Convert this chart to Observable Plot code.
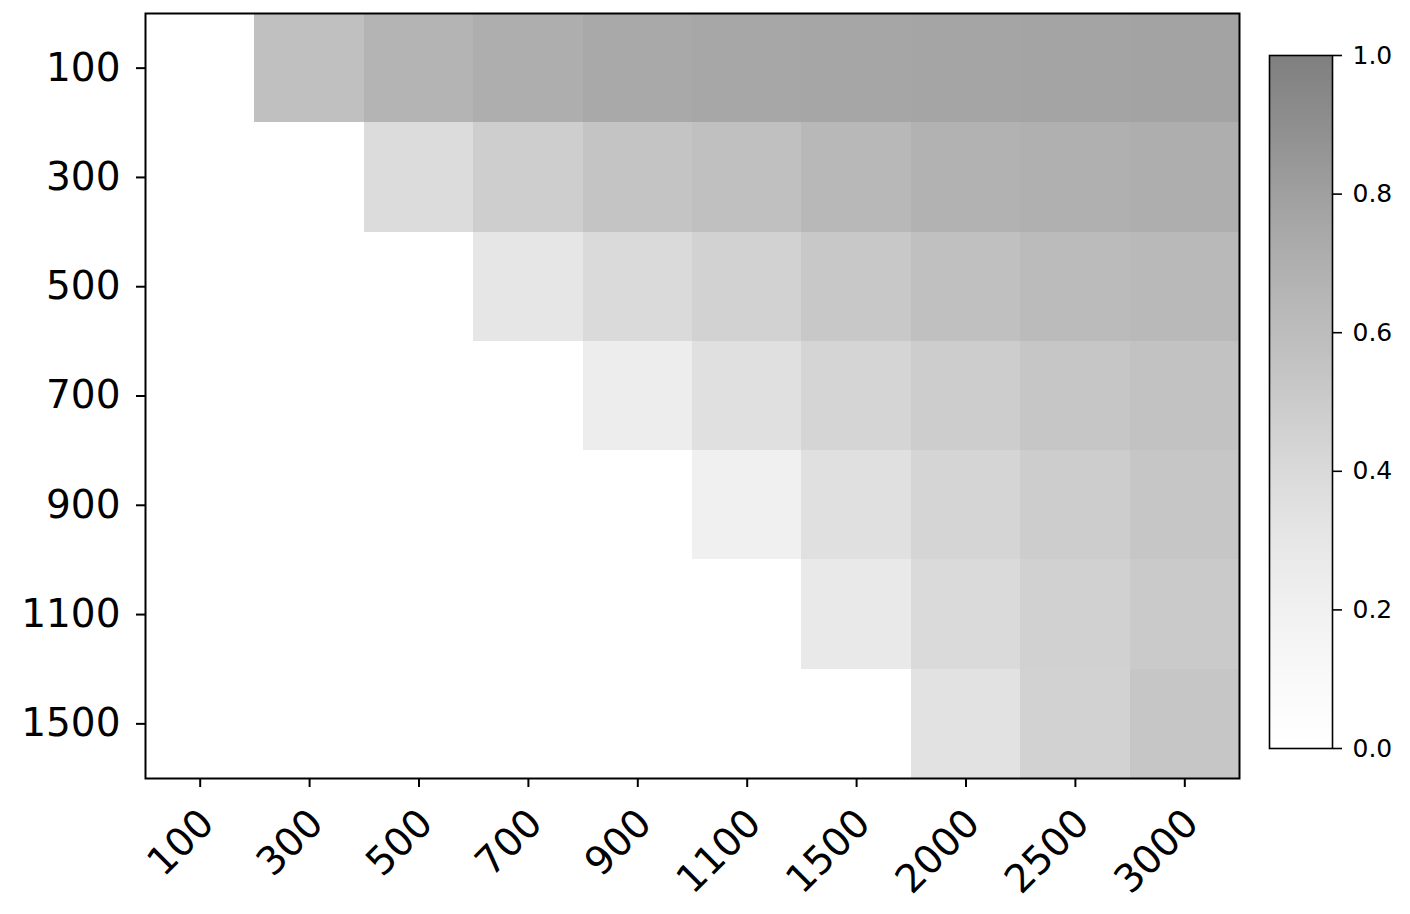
<!DOCTYPE html>
<html>
<head>
<meta charset="utf-8">
<script src="https://cdn.jsdelivr.net/npm/d3@7"></script>
<script src="https://cdn.jsdelivr.net/npm/@observablehq/plot@0.6"></script>
<style>
  html, body { margin: 0; padding: 0; background: #fff; }
  #wrap { display: flex; flex-direction: row; width: 1410px; height: 914px; }
  svg { font-family: "DejaVu Sans", sans-serif; }
</style>
</head>
<body>
<div id="wrap"></div>
<script>
// ---- data ----
const xCats = ["100", "300", "500", "700", "900", "1100", "1500", "2000", "2500", "3000"];
const yCats = ["100", "300", "500", "700", "900", "1100", "1500"];
// one row per y category; null = empty (masked) cell
const row100  = [null, 0.575, 0.663, 0.708, 0.739, 0.753, 0.764, 0.769, 0.775, 0.781];
const row300  = [null, null, 0.388, 0.478, 0.546, 0.575, 0.633, 0.678, 0.693, 0.708];
const row500  = [null, null, null, 0.304, 0.401, 0.452, 0.518, 0.575, 0.611, 0.625];
const row700  = [null, null, null, null, 0.239, 0.357, 0.433, 0.490, 0.532, 0.561];
const row900  = [null, null, null, null, null, 0.210, 0.357, 0.436, 0.490, 0.532];
const row1100 = [null, null, null, null, null, null, 0.277, 0.401, 0.458, 0.504];
const row1500 = [null, null, null, null, null, null, null, 0.339, 0.452, 0.532];
const valueRows = [row100, row300, row500, row700, row900, row1100, row1500];
const colorTicks = [0, 0.2, 0.4, 0.6, 0.8, 1.0];

// ---- table for the library ----
const cells = [];
valueRows.forEach((row, i) => row.forEach((v, j) => {
  if (v != null) cells.push({x: xCats[j], y: yCats[i], v});
}));

// Greys colormap at 50% alpha over white
const greysHalf = t => d3.interpolateRgb("#ffffff", d3.interpolateGreys(t))(0.5);
const colorOpts = {type: "linear", domain: [0, 1], interpolate: () => greysHalf, clamp: true};

const main = Plot.plot({
  width: 1250,
  height: 914,
  marginTop: 13,
  marginBottom: 136,
  marginLeft: 145,
  marginRight: 11,
  style: {fontFamily: "DejaVu Sans", fontSize: "39px", color: "#000", background: "#fff"},
  x: {type: "band", domain: xCats, padding: 0, round: false, axis: null},
  y: {type: "band", domain: yCats, padding: 0, round: false, axis: null},
  color: colorOpts,
  marks: [
    Plot.cell(cells, {x: "x", y: "y", fill: "v", inset: 0, shapeRendering: "crispEdges"}),
    Plot.frame({stroke: "#000", strokeWidth: 2}),
    Plot.axisY({anchor: "left", label: null, tickSize: 9, tickPadding: 16, strokeWidth: 2, fontSize: 39, fill: "#000"}),
    // tick marks only
    Plot.axisX({anchor: "bottom", label: null, tickSize: 9, strokeWidth: 2, fill: "none"}),
    // rotated labels only
    Plot.axisX({anchor: "bottom", label: null, tickSize: 0, tickPadding: 38, fontSize: 39,
                tickRotate: -45, textAnchor: "end", lineAnchor: "middle", dx: 7, fill: "#000"})
  ]
});

const bar = Plot.plot({
  width: 160,
  height: 914,
  marginTop: 55,
  marginBottom: 166,
  marginLeft: 19,
  marginRight: 78,
  style: {fontFamily: "DejaVu Sans", fontSize: "25px", color: "#000", background: "#fff"},
  x: {domain: [0, 1], axis: null},
  y: {domain: [0, 1], axis: null},
  color: colorOpts,
  marks: [
    Plot.raster({x1: 0, x2: 1, y1: 0, y2: 1, width: 2, height: 400, fill: (x, y) => y, imageRendering: "auto"}),
    Plot.frame({stroke: "#000", strokeWidth: 1.6}),
    Plot.axisY(colorTicks, {anchor: "right", label: null, tickSize: 9, tickPadding: 11, strokeWidth: 1.6,
                tickFormat: d3.format(".1f"), fontSize: 25, fill: "#000"})
  ]
});

const wrap = document.getElementById("wrap");
wrap.appendChild(main);
wrap.appendChild(bar);
</script>
</body>
</html>
